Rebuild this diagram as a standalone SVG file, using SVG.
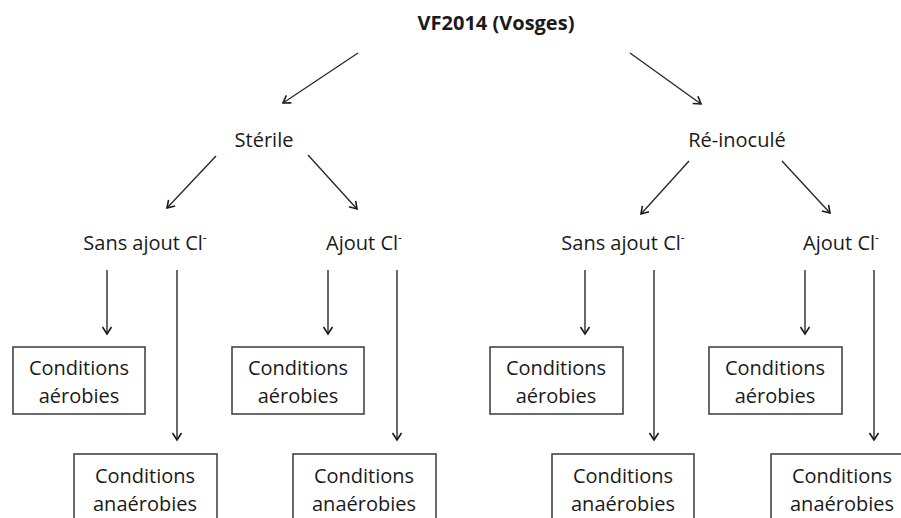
<svg xmlns="http://www.w3.org/2000/svg" width="901" height="518" viewBox="0 0 901 518">
<style>
text{font-family:"Open Sans","Liberation Sans",sans-serif;font-size:20px;fill:#1a1a1a;text-anchor:middle}
.title{font-weight:bold}
.box{fill:#fff;stroke:#3a3a3a;stroke-width:1.5}
.conn line{stroke:#2a2a2a;stroke-width:1.4;marker-end:url(#arr)}
.sup{font-size:12px}
</style>
<defs>
<marker id="arr" markerUnits="userSpaceOnUse" markerWidth="12" markerHeight="12" viewBox="0 0 12 12" refX="9" refY="6" orient="auto">
<path d="M2,1.5 L9,6 L2,10.5" fill="none" stroke="#1a1a1a" stroke-width="1.6"/>
</marker>
</defs>
<rect width="901" height="518" fill="#fff"/>
<g id="root"><text class="title" x="496" y="30">VF2014 (Vosges)</text></g>
<g id="sterile"><text x="264" y="147">Stérile</text></g>
<g id="reinocule"><text x="737" y="147">Ré-inoculé</text></g>
<g id="s-sans"><text x="145" y="250">Sans ajout Cl<tspan class="sup" dy="-8">-</tspan></text></g>
<g id="s-ajout"><text x="364" y="250">Ajout Cl<tspan class="sup" dy="-8">-</tspan></text></g>
<g id="r-sans"><text x="623" y="250">Sans ajout Cl<tspan class="sup" dy="-8">-</tspan></text></g>
<g id="r-ajout"><text x="841" y="250">Ajout Cl<tspan class="sup" dy="-8">-</tspan></text></g>

<g id="s-sans-aer"><rect class="box" x="13" y="347" width="132" height="67"/><text x="79" y="375">Conditions</text><text x="79" y="403">aérobies</text></g>
<g id="s-sans-ana"><rect class="box" x="74" y="454" width="143" height="80"/><text x="145" y="483">Conditions</text><text x="145" y="511">anaérobies</text></g>
<g id="s-ajout-aer"><rect class="box" x="232" y="347" width="132" height="67"/><text x="298" y="375">Conditions</text><text x="298" y="403">aérobies</text></g>
<g id="s-ajout-ana"><rect class="box" x="293" y="454" width="143" height="80"/><text x="364" y="483">Conditions</text><text x="364" y="511">anaérobies</text></g>
<g id="r-sans-aer"><rect class="box" x="490" y="347" width="133" height="67"/><text x="556" y="375">Conditions</text><text x="556" y="403">aérobies</text></g>
<g id="r-sans-ana"><rect class="box" x="552" y="454" width="142" height="80"/><text x="623" y="483">Conditions</text><text x="623" y="511">anaérobies</text></g>
<g id="r-ajout-aer"><rect class="box" x="709" y="347" width="133" height="67"/><text x="775" y="375">Conditions</text><text x="775" y="403">aérobies</text></g>
<g id="r-ajout-ana"><rect class="box" x="771" y="454" width="142" height="80"/><text x="842" y="483">Conditions</text><text x="842" y="511">anaérobies</text></g>

<g class="conn" id="connectors">
<line x1="358" y1="53" x2="283" y2="103"/>
<line x1="630" y1="53" x2="701" y2="104"/>
<line x1="216" y1="156" x2="167" y2="208"/>
<line x1="308" y1="155" x2="357" y2="209"/>
<line x1="689" y1="161" x2="641" y2="214"/>
<line x1="782" y1="161" x2="830" y2="213"/>
<line x1="107" y1="270" x2="107" y2="334"/>
<line x1="177" y1="270" x2="177" y2="440"/>
<line x1="328" y1="270" x2="328" y2="334"/>
<line x1="397" y1="270" x2="397" y2="440"/>
<line x1="585" y1="270" x2="585" y2="334"/>
<line x1="654" y1="270" x2="654" y2="440"/>
<line x1="805" y1="270" x2="805" y2="334"/>
<line x1="874" y1="270" x2="874" y2="440"/>
</g>
</svg>
